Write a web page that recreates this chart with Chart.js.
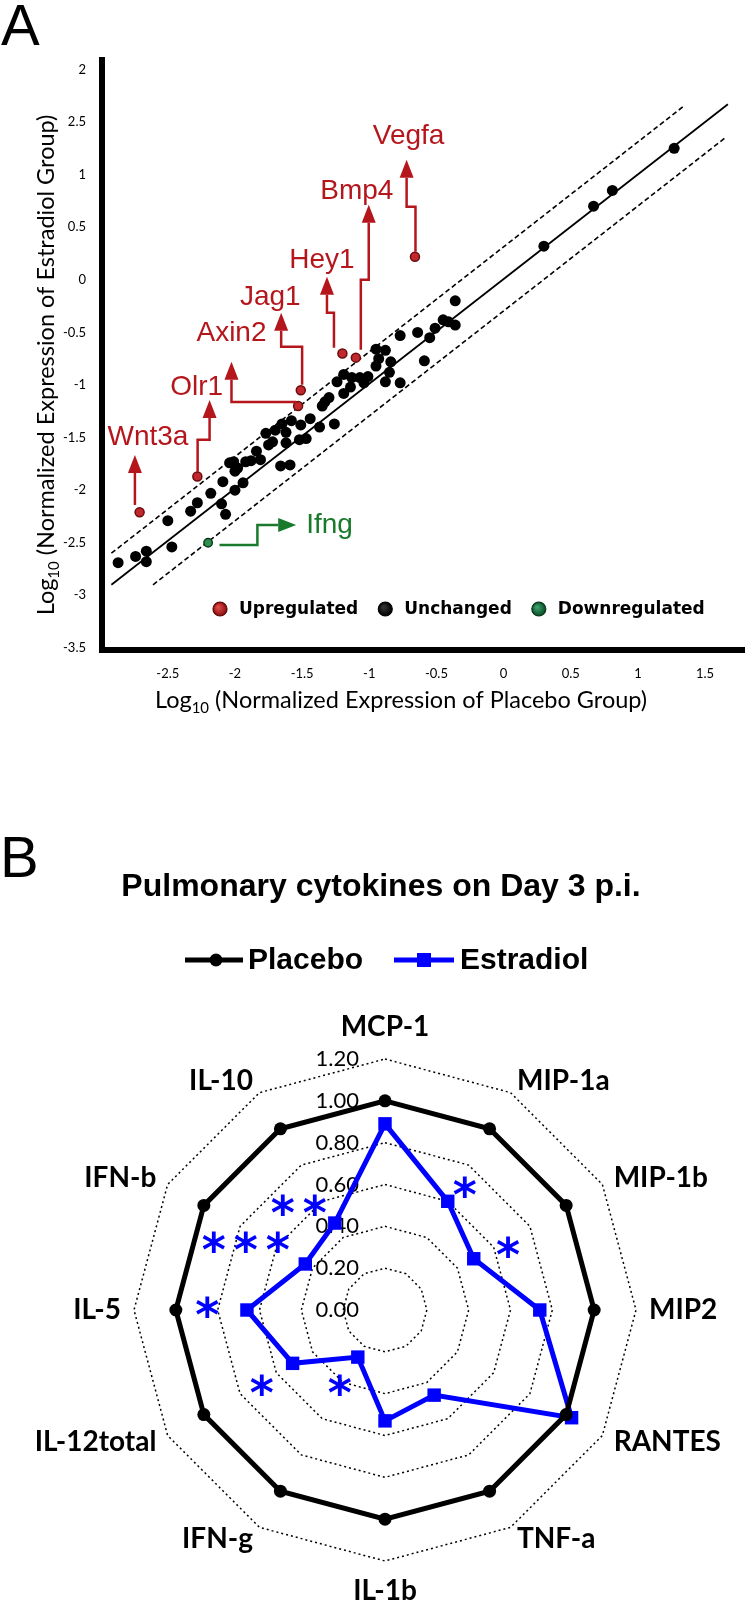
<!DOCTYPE html>
<html>
<head>
<meta charset="utf-8">
<script src="https://cdn.jsdelivr.net/npm/chart.js@4"></script>
<style>
  html, body { margin: 0; padding: 0; background: #fff; }
  canvas { display: block; }
</style>
</head>
<body>
<canvas id="scatter" width="750" height="720"></canvas>
<canvas id="radar" width="750" height="889"></canvas>
<script>
// ---- Panel A data ----
const unchangedX = [1.27, 0.81, 0.67, 0.30, -0.36, -0.45, -0.41, -0.36, -0.51, -0.55, -0.64, -0.77, -0.59, -0.95, -0.88, -0.93, -0.84, -0.85, -0.88, -0.77,
  -0.95, -1.01, -1.07, -1.13, -1.04, -1.14, -1.19, -1.24, -1.19, -1.30, -1.33, -1.35, -1.44, -1.26, -1.37, -1.51, -1.58, -1.65, -1.70, -1.62,
  -1.77, -1.72, -1.75, -1.62, -1.52, -1.47, -1.84, -1.88, -1.81, -1.92, -1.66, -1.59, -2.04, -2.01, -2.00, -1.98, -2.09, -1.94, -2.00, -2.18,
  -2.10, -2.07, -2.28, -2.33, -2.50, -2.47, -2.66, -2.74, -2.66, -2.87];
const unchangedY = [1.25, 0.85, 0.70, 0.32, -0.20, -0.38, -0.40, -0.43, -0.46, -0.55, -0.50, -0.53, -0.77, -0.66, -0.67, -0.75, -0.78, -0.88, -0.97, -0.98,
  -0.82, -0.92, -0.93, -0.93, -0.98, -1.02, -1.08, -0.97, -0.90, -1.12, -1.16, -1.20, -1.32, -1.37, -1.40, -1.38, -1.34, -1.37, -1.43, -1.45,
  -1.46, -1.54, -1.57, -1.55, -1.52, -1.51, -1.63, -1.72, -1.71, -1.73, -1.77, -1.76, -1.74, -1.73, -1.82, -1.79, -1.92, -1.93, -2.00, -2.03,
  -2.13, -2.23, -2.12, -2.20, -2.29, -2.54, -2.58, -2.63, -2.68, -2.69];
const upGenes = ['Wnt3a', 'Olr1', 'Axin2', 'Jag1', 'Hey1', 'Bmp4', 'Vegfa'];
const upX = [-2.71, -2.28, -1.53, -1.51, -1.20, -1.10, -0.66];
const upY = [-2.21, -1.87, -1.20, -1.05, -0.70, -0.74, 0.22];
const downGenes = ['Ifng'];
const downX = [-2.20];
const downY = [-2.50];

// reference lines (equal expression, +/- 2 fold)
const diagX = [-2.92, 1.67];
const diagY = [-2.90, 1.67];
const upperX = [-2.92, 1.35];
const upperY = [-2.60, 1.66];
const lowerX = [-2.61, 1.66];
const lowerY = [-2.90, 1.36];

const xTickValues = [-2.5, -2, -1.5, -1, -0.5, 0, 0.5, 1, 1.5];
const yTickValues = [-3.5, -3, -2.5, -2, -1.5, -1, -0.5, 0, 0.5, 1, 1.5, 2];
const yTickLabels = ['-3.5', '-3', '-2.5', '-2', '-1.5', '-1', '-0.5', '0', '0.5', '1', '2.5', '2'];
const legendA = ['Upregulated', 'Unchanged', 'Downregulated'];
const xTitle = ['Log', '10', ' (Normalized Expression of Placebo Group)'];
const yTitle = ['Log', '10', ' (Normalized Expression of Estradiol Group)'];

// ---- Panel B data ----
const cytokines = ['MCP-1', 'MIP-1a', 'MIP-1b', 'MIP2', 'RANTES', 'TNF-a', 'IL-1b', 'IFN-g', 'IL-12total', 'IL-5', 'IFN-b', 'IL-10'];
const placebo = [1.00, 1.00, 1.00, 1.00, 1.00, 1.00, 1.00, 1.00, 1.00, 1.00, 1.00, 1.00];
const estradiol = [0.89, 0.60, 0.49, 0.74, 1.03, 0.47, 0.53, 0.26, 0.51, 0.66, 0.44, 0.48];
const significance = ['', '*', '*', '', '', '', '', '*', '*', '*', '***', '**'];

const RED = '#b5161c';
const GREEN = '#187a2a';
const BLUE = '#0000ff';

Chart.defaults.font.family = 'Lato';
Chart.defaults.color = '#000';

function points(xs, ys) {
  return xs.map((x, i) => ({ x: x, y: ys[i] }));
}

// arrows from the labelled genes, in data units
const callouts = [
  { text: 'Wnt3a', color: RED, path: [[-2.745, -2.141], [-2.745, -1.665]], at: [-2.648, -1.494], align: 'center' },
  { text: 'Olr1', color: RED, path: [[-2.278, -1.827], [-2.278, -1.522], [-2.189, -1.522], [-2.189, -1.142]], at: [-2.285, -1.018], align: 'center' },
  { text: 'Axin2', color: RED, path: [[-1.544, -1.161], [-2.026, -1.161], [-2.026, -0.780]], at: [-2.026, -0.504], align: 'center' },
  { text: 'Jag1', color: RED, path: [[-1.5, -0.999], [-1.5, -0.637], [-1.656, -0.637], [-1.656, -0.314]], at: [-1.737, -0.162], align: 'center' },
  { text: 'Hey1', color: RED, path: [[-1.263, -0.647], [-1.263, -0.314], [-1.315, -0.314], [-1.315, 0.029]], at: [-1.352, 0.190], align: 'center' },
  { text: 'Bmp4', color: RED, path: [[-1.063, -0.666], [-1.063, 0], [-1.004, 0], [-1.004, 0.714]], at: [-1.093, 0.837], align: 'center' },
  { text: 'Vegfa', color: RED, path: [[-0.656, 0.266], [-0.656, 0.695], [-0.722, 0.695], [-0.722, 1.142]], at: [-0.707, 1.361], align: 'center' },
  { text: 'Ifng', color: GREEN, path: [[-2.115, -2.521], [-1.833, -2.521], [-1.833, -2.331], [-1.544, -2.331]], at: [-1.470, -2.331], align: 'left' }
];

function drawArrow(ctx, pts, color) {
  const n = pts.length;
  const [tx, ty] = pts[n - 1];
  const [px, py] = pts[n - 2];
  const ang = Math.atan2(ty - py, tx - px);
  const head = 18, half = 7;
  const bx = tx - head * Math.cos(ang), by = ty - head * Math.sin(ang);
  ctx.strokeStyle = color;
  ctx.fillStyle = color;
  ctx.lineWidth = 2.5;
  ctx.lineJoin = 'miter';
  ctx.beginPath();
  ctx.moveTo(pts[0][0], pts[0][1]);
  for (let i = 1; i < n - 1; i++) ctx.lineTo(pts[i][0], pts[i][1]);
  ctx.lineTo(bx, by);
  ctx.stroke();
  ctx.beginPath();
  ctx.moveTo(tx, ty);
  ctx.lineTo(bx - half * Math.sin(ang), by + half * Math.cos(ang));
  ctx.lineTo(bx + half * Math.sin(ang), by - half * Math.cos(ang));
  ctx.closePath();
  ctx.fill();
}

function legendDot(ctx, x, y, fill, rim) {
  const g = ctx.createRadialGradient(x - 2, y - 2, 1, x, y, 7);
  g.addColorStop(0, fill[0]);
  g.addColorStop(1, fill[1]);
  ctx.beginPath();
  ctx.arc(x, y, 7, 0, Math.PI * 2);
  ctx.fillStyle = g;
  ctx.fill();
  ctx.lineWidth = 1.2;
  ctx.strokeStyle = rim;
  ctx.stroke();
}

// axis title with a subscript, centred on (0,0) of the current transform
function subTitle(ctx, parts) {
  const big = '23.5px Lato', small = '15px Lato';
  ctx.font = big;
  const w0 = ctx.measureText(parts[0]).width;
  const w2 = ctx.measureText(parts[2]).width;
  ctx.font = small;
  const w1 = ctx.measureText(parts[1]).width;
  let x = -(w0 + w1 + w2) / 2;
  ctx.textAlign = 'left';
  ctx.textBaseline = 'alphabetic';
  ctx.font = big;
  ctx.fillText(parts[0], x, 8);
  x += w0;
  ctx.font = small;
  ctx.fillText(parts[1], x, 13);
  x += w1;
  ctx.font = big;
  ctx.fillText(parts[2], x, 8);
}

const scatterDecor = {
  id: 'scatterDecor',
  afterDraw(chart) {
    const ctx = chart.ctx;
    const xs = chart.scales.x, ys = chart.scales.y;
    const area = chart.chartArea;
    ctx.save();
    // panel letter
    ctx.fillStyle = '#000';
    ctx.font = '58px "Liberation Sans"';
    ctx.textAlign = 'left';
    ctx.textBaseline = 'alphabetic';
    ctx.fillText('A', 1, 45);

    // axis titles
    ctx.save();
    ctx.translate(401, 700);
    subTitle(ctx, xTitle);
    ctx.restore();
    ctx.save();
    ctx.translate(46, 365);
    ctx.rotate(-Math.PI / 2);
    subTitle(ctx, yTitle);
    ctx.restore();

    // gene callouts
    callouts.forEach(c => {
      const pts = c.path.map(p => [xs.getPixelForValue(p[0]), ys.getPixelForValue(p[1])]);
      drawArrow(ctx, pts, c.color);
      ctx.fillStyle = c.color;
      ctx.font = '28px "Liberation Sans"';
      ctx.textAlign = c.align;
      ctx.textBaseline = 'middle';
      ctx.fillText(c.text, xs.getPixelForValue(c.at[0]), ys.getPixelForValue(c.at[1]));
    });

    // legend inside the plot
    const fills = [['#e04a4a', '#8a0d0d'], ['#333', '#000'], ['#3aa06a', '#0b4a25']];
    const rims = ['#5a0606', '#000', '#063518'];
    const ly = area.bottom - 41;
    let lx = 220;
    ctx.font = 'bold 17px "DejaVu Sans"';
    ctx.textAlign = 'left';
    ctx.textBaseline = 'middle';
    legendA.forEach((t, i) => {
      legendDot(ctx, lx, ly, fills[i], rims[i]);
      ctx.fillStyle = '#000';
      ctx.fillText(t, lx + 19, ly + 1);
      lx += 19 + ctx.measureText(t).width + 27;
    });
    ctx.restore();
  }
};

new Chart(document.getElementById('scatter'), {
  type: 'scatter',
  data: {
    datasets: [
      { label: 'Upregulated', data: points(upX, upY), pointRadius: 4.5, pointBackgroundColor: '#c0282d', pointBorderColor: '#6a0c0c', pointBorderWidth: 1.5 },
      { label: 'Downregulated', data: points(downX, downY), pointRadius: 4.2, pointBackgroundColor: '#2f8f4f', pointBorderColor: '#0c3b1c', pointBorderWidth: 1.5 },
      { label: 'Unchanged', data: points(unchangedX, unchangedY), pointRadius: 5.5, pointBackgroundColor: '#000', pointBorderWidth: 0 },
      { type: 'line', data: points(diagX, diagY), borderColor: '#000', borderWidth: 1.8, pointRadius: 0, fill: false },
      { type: 'line', data: points(upperX, upperY), borderColor: '#000', borderWidth: 1.6, borderDash: [5, 3], pointRadius: 0, fill: false },
      { type: 'line', data: points(lowerX, lowerY), borderColor: '#000', borderWidth: 1.6, borderDash: [5, 3], pointRadius: 0, fill: false }
    ]
  },
  options: {
    responsive: false,
    animation: false,
    layout: { padding: { top: 60, right: 3, left: 0, bottom: 0 } },
    plugins: { legend: { display: false }, tooltip: { enabled: false } },
    scales: {
      x: {
        type: 'linear', min: -2.99, max: 1.79,
        grid: { display: false },
        border: { display: true, color: '#000', width: 6 },
        afterBuildTicks: s => { s.ticks = xTickValues.map(v => ({ value: v })); },
        afterFit: s => { s.height = 70; },
        ticks: { font: { size: 13 }, color: '#000', padding: 8, maxRotation: 0, autoSkip: false, callback: v => String(v) }
      },
      y: {
        type: 'linear', min: -3.52, max: 2.09,
        grid: { display: false },
        border: { display: true, color: '#000', width: 6 },
        afterBuildTicks: s => { s.ticks = yTickValues.map(v => ({ value: v })); },
        afterFit: s => { s.width = 102; },
        ticks: { font: { size: 13 }, color: '#000', padding: 8, autoSkip: false, callback: v => yTickLabels[yTickValues.indexOf(v)] }
      }
    }
  },
  plugins: [scatterDecor]
});

// ---- Panel B ----
// where the significance stars sit: value along the spoke and a small turn in degrees
const sigPlaces = { 1: [0.70, 3], 2: [0.66, 3], 7: [0.42, 1], 8: [0.69, -1.4], 9: [0.85, 1], 10: [0.74, -4], 11: [0.65, -9.3] };

const radarDecor = {
  id: 'radarDecor',
  beforeDatasetsDraw(chart) {
    const ctx = chart.ctx;
    const r = chart.scales.r;
    ctx.save();
    ctx.fillStyle = '#000';
    ctx.font = '22px Lato';
    ctx.textAlign = 'right';
    ctx.textBaseline = 'middle';
    r.ticks.forEach(t => {
      ctx.fillText(t.value.toFixed(2), r.xCenter - 26, r.yCenter - r.getDistanceFromCenterForValue(t.value));
    });
    ctx.restore();
  },
  afterDraw(chart) {
    const ctx = chart.ctx;
    const r = chart.scales.r;
    const R = r.drawingArea;
    ctx.save();
    // panel letter and title
    ctx.fillStyle = '#000';
    ctx.font = '58px "Liberation Sans"';
    ctx.textAlign = 'left';
    ctx.textBaseline = 'alphabetic';
    ctx.fillText('B', 0, 157);
    ctx.font = 'bold 32px "Liberation Sans"';
    ctx.textAlign = 'center';
    ctx.textBaseline = 'middle';
    ctx.fillText('Pulmonary cytokines on Day 3 p.i.', 381, 167);

    // legend
    const ly = 240;
    ctx.lineWidth = 5;
    ctx.strokeStyle = '#000';
    ctx.beginPath(); ctx.moveTo(185, ly); ctx.lineTo(243, ly); ctx.stroke();
    ctx.beginPath(); ctx.arc(216, ly, 6.5, 0, Math.PI * 2); ctx.fill();
    ctx.strokeStyle = BLUE;
    ctx.fillStyle = BLUE;
    ctx.beginPath(); ctx.moveTo(394, ly); ctx.lineTo(454, ly); ctx.stroke();
    ctx.fillRect(417, ly - 7, 14, 14);
    ctx.fillStyle = '#000';
    ctx.font = 'bold 30px "Liberation Sans"';
    ctx.textAlign = 'left';
    ctx.fillText(chart.data.datasets[0].label, 248, ly + 1);
    ctx.fillText(chart.data.datasets[1].label, 460, ly + 1);

    // category labels
    ctx.font = 'bold 28px Lato';
    cytokines.forEach((name, i) => {
      const deg = i * 360 / cytokines.length;
      let p;
      if (deg === 0) {
        p = r.getPointPosition(i, R + 23);
        ctx.textAlign = 'center'; ctx.textBaseline = 'alphabetic';
      } else if (deg === 180) {
        p = r.getPointPosition(i, R + 16);
        ctx.textAlign = 'center'; ctx.textBaseline = 'top';
      } else {
        p = r.getPointPosition(i, R + 13);
        ctx.textAlign = deg < 180 ? 'left' : 'right'; ctx.textBaseline = 'middle';
      }
      ctx.fillText(name, p.x, p.y);
    });

    // significance stars
    ctx.fillStyle = BLUE;
    ctx.font = 'bold 46px "DejaVu Sans"';
    ctx.textAlign = 'center';
    ctx.textBaseline = 'alphabetic';
    const m = ctx.measureText('*');
    const mid = (m.actualBoundingBoxAscent - m.actualBoundingBoxDescent) / 2;
    significance.forEach((s, i) => {
      if (!s) return;
      const [v, turn] = sigPlaces[i];
      const a = (i * 360 / cytokines.length + turn) * Math.PI / 180;
      const d = r.getDistanceFromCenterForValue(v);
      const cx = r.xCenter + d * Math.sin(a);
      const cy = r.yCenter - d * Math.cos(a);
      for (let k = 0; k < s.length; k++) {
        ctx.fillText('*', cx + (k - (s.length - 1) / 2) * 32, cy + mid);
      }
    });
    ctx.restore();
  }
};

new Chart(document.getElementById('radar'), {
  type: 'radar',
  data: {
    labels: cytokines,
    datasets: [
      { label: 'Placebo', data: placebo, borderColor: '#000', backgroundColor: '#000', borderWidth: 5, fill: false,
        pointRadius: 6.5, pointBackgroundColor: '#000', pointBorderWidth: 0 },
      { label: 'Estradiol', data: estradiol, borderColor: BLUE, backgroundColor: BLUE, borderWidth: 5, fill: false,
        pointStyle: 'rect', pointRadius: 9.5, pointBackgroundColor: BLUE, pointBorderWidth: 0 }
    ]
  },
  options: {
    responsive: false,
    animation: false,
    layout: { padding: { left: 134, right: 114, top: 339, bottom: 48 } },
    plugins: { legend: { display: false }, tooltip: { enabled: false } },
    scales: {
      r: {
        min: 0, max: 1.2,
        ticks: { display: false, stepSize: 0.2 },
        pointLabels: { display: false },
        angleLines: { display: false },
        grid: { color: '#000', lineWidth: 1.5 },
        border: { dash: [2, 3] }
      }
    }
  },
  plugins: [radarDecor]
});
</script>
</body>
</html>
